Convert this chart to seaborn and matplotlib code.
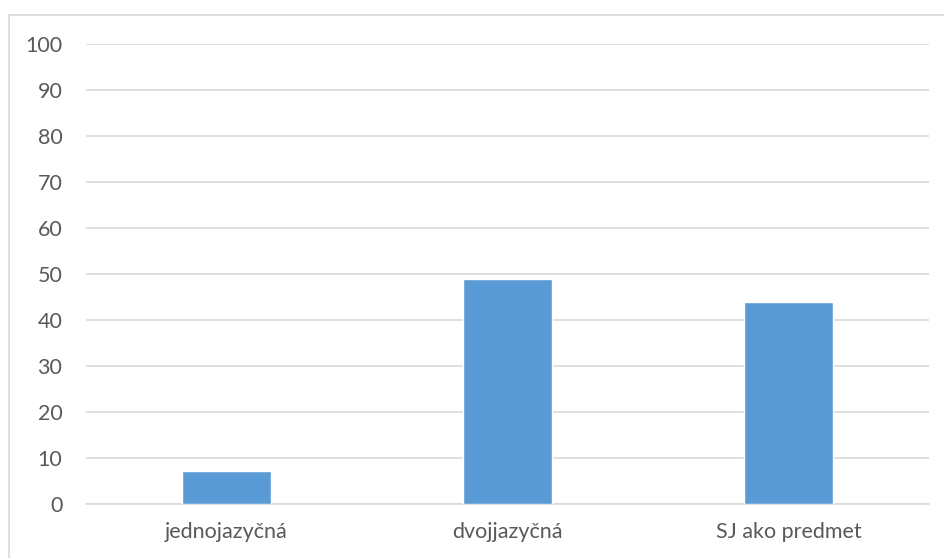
import matplotlib
matplotlib.use("Agg")
import matplotlib.pyplot as plt
import seaborn as sns
import pandas as pd
from matplotlib.lines import Line2D

categories = ["jednojazyčná", "dvojjazyčná", "SJ ako predmet"]
values = [7.0, 48.9, 43.9]
yticks = list(range(0, 101, 10))

sns.set_theme(style="white")
plt.rcParams['font.family'] = ['Lato', 'DejaVu Sans']

W, H = 944, 558
fig = plt.figure(figsize=(W / 100, H / 100), dpi=100)
ax = fig.add_axes([86 / W, 1 - 503.5 / H, (929 - 86) / W, (503.5 - 43.8) / H])

df = pd.DataFrame({"cat": categories, "val": values})
sns.barplot(data=df, x="cat", y="val", color="#5B9BD5", saturation=1,
            width=0.315, ax=ax, zorder=3)

ax.set_ylim(0, 100)
ax.set_yticks(yticks)
ax.set_xlim(-0.5, 2.5)
ax.yaxis.grid(True, color="#D9D9D9", linewidth=1.2, zorder=0)
ax.set_axisbelow(True)
for s in ["top", "right", "left"]:
    ax.spines[s].set_visible(False)
ax.spines["bottom"].set_color("#D9D9D9")
ax.spines["bottom"].set_linewidth(1.2)
ax.tick_params(axis="both", length=0, labelsize=15.5, colors="#595959")
ax.tick_params(axis="x", pad=13)
ax.tick_params(axis="y", pad=17)
ax.set_xlabel("")
ax.set_ylabel("")

# chart area border
fig.add_artist(Line2D([9 / W, 1.01], [1 - 15 / H, 1 - 15 / H], transform=fig.transFigure,
                      color="#D9D9D9", linewidth=1.2))
fig.add_artist(Line2D([9 / W, 9 / W], [1 - 15 / H, -0.01], transform=fig.transFigure,
                      color="#D9D9D9", linewidth=1.2))

fig.savefig("out.png", dpi=100, facecolor="white")
